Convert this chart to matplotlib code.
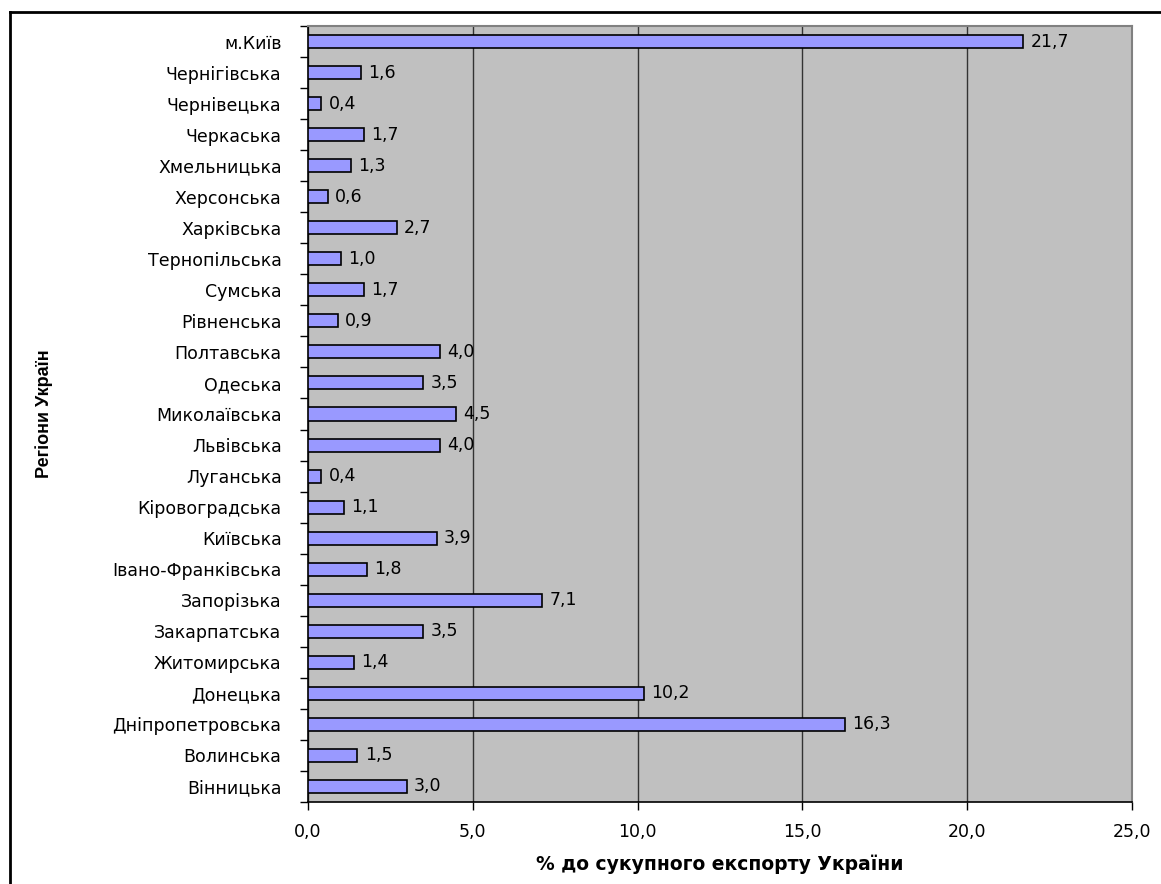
import matplotlib.pyplot as plt
from matplotlib.lines import Line2D
import numpy as np

# regions, bottom to top as drawn
regions = ['Вінницька', 'Волинська', 'Дніпропетровська', 'Донецька', 'Житомирська',
           'Закарпатська', 'Запорізька', 'Івано-Франківська', 'Київська', 'Кіровоградська',
           'Луганська', 'Львівська', 'Миколаївська', 'Одеська', 'Полтавська',
           'Рівненська', 'Сумська', 'Тернопільська', 'Харківська', 'Херсонська',
           'Хмельницька', 'Черкаська', 'Чернівецька', 'Чернігівська', 'м.Київ']
shares = [3.0, 1.5, 16.3, 10.2, 1.4,
          3.5, 7.1, 1.8, 3.9, 1.1,
          0.4, 4.0, 4.5, 3.5, 4.0,
          0.9, 1.7, 1.0, 2.7, 0.6,
          1.3, 1.7, 0.4, 1.6, 21.7]
x_ticks = [0, 5, 10, 15, 20, 25]

plt.rcParams['font.family'] = ['DejaVu Sans']

fig = plt.figure(figsize=(11.61, 8.84), dpi=100)
ax = fig.add_axes([308 / 1161, 1 - 802 / 884, 824 / 1161, 776 / 884])

# outer frame: only top and left edges show in the picture
fx, fy = 10 / 1161, 1 - 12 / 884
fig.add_artist(Line2D([fx, 1.0], [fy, fy], transform=fig.transFigure, color='black', linewidth=2))
fig.add_artist(Line2D([fx, fx], [0.0, fy], transform=fig.transFigure, color='black', linewidth=2))

ax.set_facecolor('#C0C0C0')
y = np.arange(len(regions))
ax.barh(y, shares, height=0.42, color='#9999FF', edgecolor='black', linewidth=1.2, zorder=3)

for yi, v in zip(y, shares):
    ax.text(v + 0.22, yi, f'{v:.1f}'.replace('.', ','), va='center', ha='left',
            fontsize=12.5, zorder=4)

ax.set_xlim(0, 25)
ax.set_ylim(-0.5, len(regions) - 0.5)
ax.set_xticks(x_ticks)
ax.set_xticklabels([f'{t:.1f}'.replace('.', ',') for t in x_ticks], fontsize=12.5)
ax.tick_params(axis='x', length=6, width=1, pad=9)
ax.xaxis.grid(True, color='#333333', linewidth=1, zorder=1)
ax.set_axisbelow(True)

ax.set_yticks(y)
ax.set_yticklabels(regions, fontsize=12.5)
ax.tick_params(axis='y', length=0, pad=19)
ax.set_yticks(np.arange(-0.5, len(regions), 1), minor=True)
ax.tick_params(axis='y', which='minor', length=6, width=1)

for side in ['top', 'right']:
    ax.spines[side].set_color('#808080')
    ax.spines[side].set_linewidth(1.5)
ax.spines['left'].set_linewidth(1.2)
ax.spines['bottom'].set_linewidth(1.2)

ax.set_xlabel('% до сукупного експорту України', fontsize=13.5, fontweight='bold', labelpad=10)
ax.set_ylabel('Регіони Україн', fontsize=13, fontweight='bold',
              family=['Liberation Sans Narrow', 'Liberation Sans'])
ax.yaxis.set_label_coords(-0.31, 0.5)

plt.savefig('out.png', dpi=100)
